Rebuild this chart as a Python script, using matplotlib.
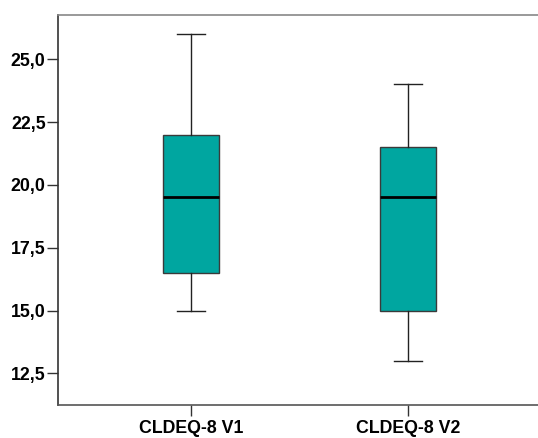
import matplotlib
matplotlib.use("Agg")
import matplotlib.pyplot as plt

categories = ["CLDEQ-8 V1", "CLDEQ-8 V2"]
whisker_low = [15.0, 13.0]
q1 = [16.5, 15.0]
median = [19.5, 19.5]
q3 = [22.0, 21.5]
whisker_high = [26.0, 24.0]
yticks = [12.5, 15.0, 17.5, 20.0, 22.5, 25.0]
ytick_labels = ["12,5", "15,0", "17,5", "20,0", "22,5", "25,0"]

plt.rcParams['font.family'] = ['Liberation Sans', 'DejaVu Sans']

fig = plt.figure(figsize=(5.38, 4.38), dpi=100)
W, H = 538, 438
ax = fig.add_axes([58 / W, 1 - 405 / H, (541 - 58) / W, (405 - 15) / H])

stats = []
for i, c in enumerate(categories):
    stats.append(dict(label=c, whislo=whisker_low[i], q1=q1[i], med=median[i],
                      q3=q3[i], whishi=whisker_high[i], fliers=[]))

ax.bxp(stats, positions=[1, 2], widths=0.258, patch_artist=True, showfliers=False,
       boxprops=dict(facecolor="#00A6A0", edgecolor="#3a3a3a", linewidth=1.0),
       medianprops=dict(color="black", linewidth=2.0),
       whiskerprops=dict(color="#222222", linewidth=1.0),
       capprops=dict(color="#222222", linewidth=1.0),
       capwidths=0.129)

ax.set_xlim(0.387, 2.613)
ax.set_ylim(11.24, 26.76)
ax.set_yticks(yticks)
ax.set_yticklabels(ytick_labels)
ax.set_xticks([1, 2])
ax.set_xticklabels(categories)

for lab in ax.get_xticklabels() + ax.get_yticklabels():
    lab.set_fontweight("bold")
    lab.set_fontsize(12.8)
    lab.set_color("black")

ax.tick_params(axis="both", length=8, width=1.0, color="#333333", pad=1)
ax.tick_params(axis="x", pad=3)
ax.spines["right"].set_visible(False)
ax.spines["left"].set_color("#333333")
ax.spines["bottom"].set_color("#555555")
ax.spines["top"].set_color("#888888")
for s in ["left", "bottom", "top"]:
    ax.spines[s].set_linewidth(1.2)

fig.savefig("out.png", dpi=100)
